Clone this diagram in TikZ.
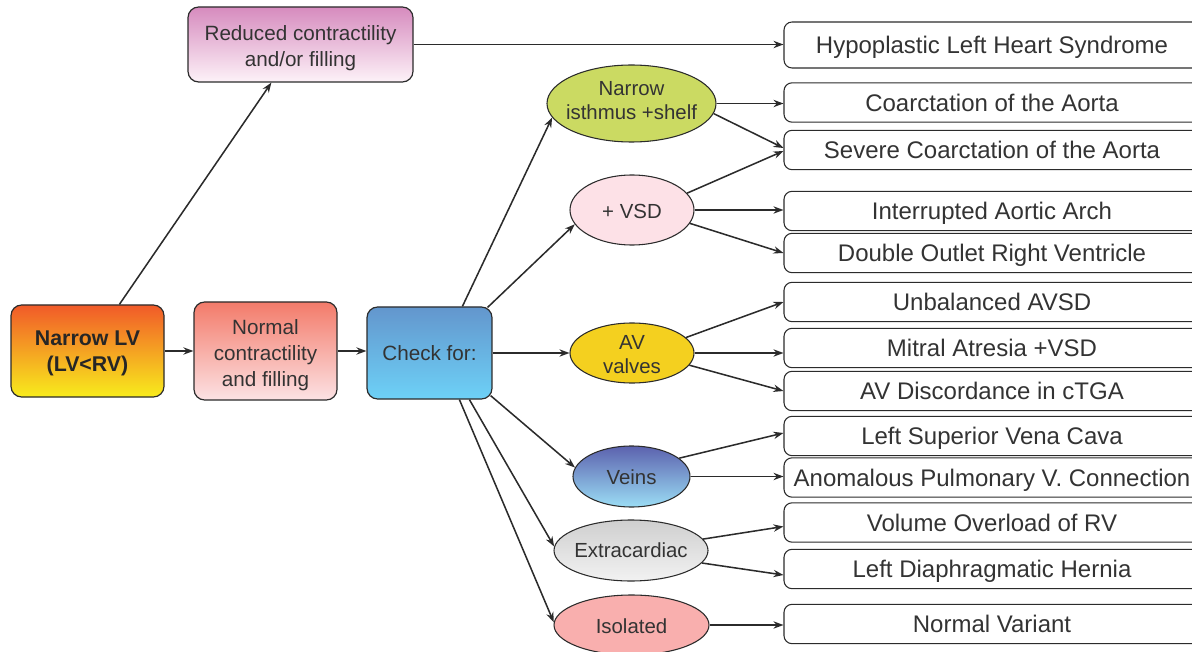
\documentclass[tikz,border=0pt]{standalone}
\usepackage{fontspec}
\setmainfont{Liberation Sans}
\usetikzlibrary{shapes.geometric,arrows.meta,calc}
\definecolor{txt}{HTML}{333333}
\definecolor{linec}{HTML}{2B2B2B}
\definecolor{lvtop}{HTML}{F15A29}
\definecolor{lvbot}{HTML}{F8EC1C}
\definecolor{nortop}{HTML}{F37B6A}
\definecolor{norbot}{HTML}{FCE2E4}
\definecolor{chktop}{HTML}{6396CD}
\definecolor{chkbot}{HTML}{6DD1F7}
\definecolor{redtop}{HTML}{D68BBE}
\definecolor{redbot}{HTML}{FDF2F8}
\definecolor{nicol}{HTML}{CBDA62}
\definecolor{vsdcol}{HTML}{FDE1E7}
\definecolor{avcol}{HTML}{F4D01F}
\definecolor{vetop}{HTML}{5C62AE}
\definecolor{vebot}{HTML}{9BDDF5}
\definecolor{extop}{HTML}{CFCFCF}
\definecolor{exbot}{HTML}{F2F2F2}
\definecolor{isocol}{HTML}{F9AFAE}
\begin{document}
\begin{tikzpicture}[x=0.75pt,y=-0.75pt,
  arr/.style={draw=linec, line width=1.15pt, -{Stealth[length=7.5pt,width=5.5pt]}},
  lbox/.style={draw=linec, line width=0.9pt, rounded corners=8pt, inner sep=0pt},
  ltext/.style={align=center, text=txt, font=\fontsize{15.5}{19.5}\selectfont},
  rbox/.style={draw=linec, line width=0.8pt, rounded corners=6pt, minimum width=312pt, minimum height=29.5pt, text=txt, font=\fontsize{18}{21}\selectfont, inner sep=0pt, text height=12.9pt, text depth=0pt},
  ell/.style={ellipse, draw=linec, line width=0.8pt, inner sep=0pt},
  etext/.style={align=center, text=txt, font=\fontsize{15.3}{18}\selectfont}
]
\useasboundingbox (0,0) rectangle (1192,652);

% left boxes
\node[lbox, top color=lvtop, bottom color=lvbot, minimum width=114.75pt, minimum height=69pt,
  label={[ltext, font=\fontsize{16}{19.5}\selectfont\bfseries, text=black!85, yshift=-1.5pt]center:{Narrow LV\\(LV<RV)}}] (lv) at (87.5,351) {};
\node[lbox, top color=nortop, bottom color=norbot, minimum width=107.25pt, minimum height=73.5pt,
  label={[ltext, yshift=-3pt]center:{Normal\\contractility\\and filling}}] (nor) at (265.5,351) {};
\node[lbox, top color=chktop, bottom color=chkbot, minimum width=93.75pt, minimum height=69pt,
  label={[ltext]center:{Check for:}}] (chk) at (429.5,353) {};
\node[lbox, top color=redtop, bottom color=redbot, minimum width=168.75pt, minimum height=56.25pt,
  label={[ltext, yshift=-3pt]center:{Reduced contractility\\and/or filling}}] (red) at (300.5,44.5) {};

% ellipses
\node[ell, fill=nicol, minimum width=126.75pt, minimum height=57.75pt, label={[etext, yshift=2.25pt]center:{Narrow\\isthmus +shelf}}] (ni) at (631.5,103.5) {};
\node[ell, fill=vsdcol, minimum width=93pt, minimum height=52.5pt, label={[etext, yshift=-0.75pt]center:{+ VSD}}] (vsd) at (632,210) {};
\node[ell, fill=avcol, minimum width=93pt, minimum height=45pt, label={[etext, yshift=-1.2pt]center:{AV\\valves}}] (av) at (632,353) {};
\node[ell, top color=vetop, bottom color=vebot, minimum width=87.75pt, minimum height=45.75pt, label={[etext, yshift=-0.75pt]center:{Veins}}] (ve) at (631.5,476.5) {};
\node[ell, top color=extop, bottom color=exbot, minimum width=115.5pt, minimum height=45.75pt, label={[etext]center:{Extracardiac}}] (ex) at (631,550.5) {};
\node[ell, fill=isocol, minimum width=116.25pt, minimum height=45pt, label={[etext, yshift=-0.75pt]center:{Isolated}}] (iso) at (631.5,625) {};

% right boxes
\node[rbox, minimum height=34.5pt] (hl) at (992,45) {Hypoplastic Left Heart Syndrome};
\node[rbox] (coa) at (992,102.5) {Coarctation of the Aorta};
\node[rbox] (sev) at (992,150) {Severe Coarctation of the Aorta};
\node[rbox] (int) at (992,211) {Interrupted Aortic Arch};
\node[rbox] (dorv) at (992,253) {Double Outlet Right Ventricle};
\node[rbox] (avsd) at (992,302) {Unbalanced AVSD};
\node[rbox] (mit) at (992,348) {Mitral Atresia +VSD};
\node[rbox] (avd) at (992,391) {AV Discordance in cTGA};
\node[rbox] (lsvc) at (992,436) {Left Superior Vena Cava};
\node[rbox] (apvc) at (992,477.5) {Anomalous Pulmonary V. Connection};
\node[rbox] (vol) at (992,522.5) {Volume Overload of RV};
\node[rbox] (ldh) at (992,569) {Left Diaphragmatic Hernia};
\node[rbox] (nv) at (992,624) {Normal Variant};

% connectors
\draw[arr] (lv.east) -- (lv.east -| nor.west);
\draw[arr] (nor.east) -- (nor.east -| chk.west);
\draw[arr] ($(lv.north west)+(109,0)$) -- ($(red.south west)+(84,0)$);
\draw[arr] (red.east) -- (red.east -| hl.west);

\draw[arr] ($(chk.north west)+(96,0)$) -- (ni.190);
\draw[arr] ($(chk.north east)+(-5,1)$) -- (vsd.194);
\draw[arr] (chk.east) -- (av.west);
\draw[arr] ($(chk.south east)+(-2,-4)$) -- (ve.171);
\draw[arr] ($(chk.south west)+(103,0)$) -- (ex.177);
\draw[arr] ($(chk.south west)+(93,0)$) -- (iso.178);

\draw[arr] (ni.east) -- (ni.east -| coa.west);
\draw[arr] (ni.-7) -- ($(sev.west)+(0,-2)$);
\draw[arr] (vsd.17) -- ($(sev.west)+(0,1)$);
\draw[arr] (vsd.east) -- (vsd.east -| int.west);
\draw[arr] (vsd.-13) -- (dorv.west);
\draw[arr] (av.16) -- (avsd.west);
\draw[arr] (av.east) -- (av.east -| mit.west);
\draw[arr] (av.-12) -- (avd.west);
\draw[arr] (ve.21) -- ($(lsvc.west)+(0,-3)$);
\draw[arr] (ve.east) -- (ve.east -| apvc.west);
\draw[arr] (ex.9) -- ($(vol.west)+(0,4)$);
\draw[arr] (ex.-10) -- ($(ldh.west)+(0,6)$);
\draw[arr] (iso.east) -- (iso.east -| nv.west);
\end{tikzpicture}
\end{document}
